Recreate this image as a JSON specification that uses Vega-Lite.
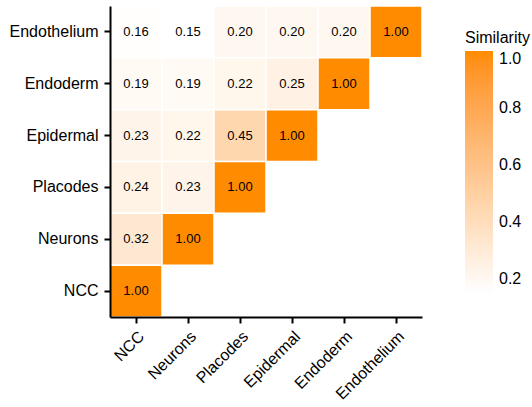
{
  "$schema": "https://vega.github.io/schema/vega-lite/v6.json",
  "autosize": {"type": "none"},
  "width": 312,
  "height": 311,
  "padding": {"left": 110, "top": 6, "right": 110, "bottom": 90},
  "background": "white",
  "config": {
    "font": "Liberation Sans",
    "view": {"stroke": null}
  },
  "data": {
    "values": [
      {"x": "NCC", "y": "Endothelium", "value": 0.16},
      {"x": "Neurons", "y": "Endothelium", "value": 0.15},
      {"x": "Placodes", "y": "Endothelium", "value": 0.20},
      {"x": "Epidermal", "y": "Endothelium", "value": 0.20},
      {"x": "Endoderm", "y": "Endothelium", "value": 0.20},
      {"x": "Endothelium", "y": "Endothelium", "value": 1.00},
      {"x": "NCC", "y": "Endoderm", "value": 0.19},
      {"x": "Neurons", "y": "Endoderm", "value": 0.19},
      {"x": "Placodes", "y": "Endoderm", "value": 0.22},
      {"x": "Epidermal", "y": "Endoderm", "value": 0.25},
      {"x": "Endoderm", "y": "Endoderm", "value": 1.00},
      {"x": "NCC", "y": "Epidermal", "value": 0.23},
      {"x": "Neurons", "y": "Epidermal", "value": 0.22},
      {"x": "Placodes", "y": "Epidermal", "value": 0.45},
      {"x": "Epidermal", "y": "Epidermal", "value": 1.00},
      {"x": "NCC", "y": "Placodes", "value": 0.24},
      {"x": "Neurons", "y": "Placodes", "value": 0.23},
      {"x": "Placodes", "y": "Placodes", "value": 1.00},
      {"x": "NCC", "y": "Neurons", "value": 0.32},
      {"x": "Neurons", "y": "Neurons", "value": 1.00},
      {"x": "NCC", "y": "NCC", "value": 1.00}
    ]
  },
  "encoding": {
    "x": {
      "field": "x", "type": "nominal",
      "sort": ["NCC", "Neurons", "Placodes", "Epidermal", "Endoderm", "Endothelium"],
      "scale": {"paddingInner": 0, "paddingOuter": 0},
      "axis": {
        "title": null, "labelAngle": -45, "labelAlign": "right", "labelBaseline": "top",
        "labelFontSize": 16, "labelColor": "black", "labelPadding": 5,
        "domainColor": "black", "domainWidth": 2, "tickColor": "black", "tickWidth": 2, "tickSize": 6
      }
    },
    "y": {
      "field": "y", "type": "nominal",
      "sort": ["Endothelium", "Endoderm", "Epidermal", "Placodes", "Neurons", "NCC"],
      "scale": {"paddingInner": 0, "paddingOuter": 0},
      "axis": {
        "title": null, "labelFontSize": 16, "labelColor": "black", "labelPadding": 6,
        "domainColor": "black", "domainWidth": 2, "tickColor": "black", "tickWidth": 2, "tickSize": 6
      }
    }
  },
  "layer": [
    {
      "mark": {"type": "rect", "stroke": "white", "strokeWidth": 1.5},
      "encoding": {
        "color": {
          "field": "value", "type": "quantitative",
          "scale": {"domain": [0.15, 1], "range": ["#FFFFFF", "#FF8C00"], "interpolate": "lab"},
          "legend": {
            "title": "Similarity", "titleFontSize": 16, "titleFontWeight": "normal", "titleColor": "black",
            "labelFontSize": 16, "labelColor": "black", "labelOffset": 6,
            "values": [0.2, 0.4, 0.6, 0.8, 1.0], "format": ".1f",
            "gradientLength": 242, "gradientThickness": 28, "gradientStrokeWidth": 0,
            "orient": "none", "legendX": 355, "legendY": 24
          }
        }
      }
    },
    {
      "mark": {"type": "text", "fontSize": 13, "color": "black"},
      "encoding": {
        "text": {"field": "value", "type": "quantitative", "format": ".2f"}
      }
    }
  ]
}
